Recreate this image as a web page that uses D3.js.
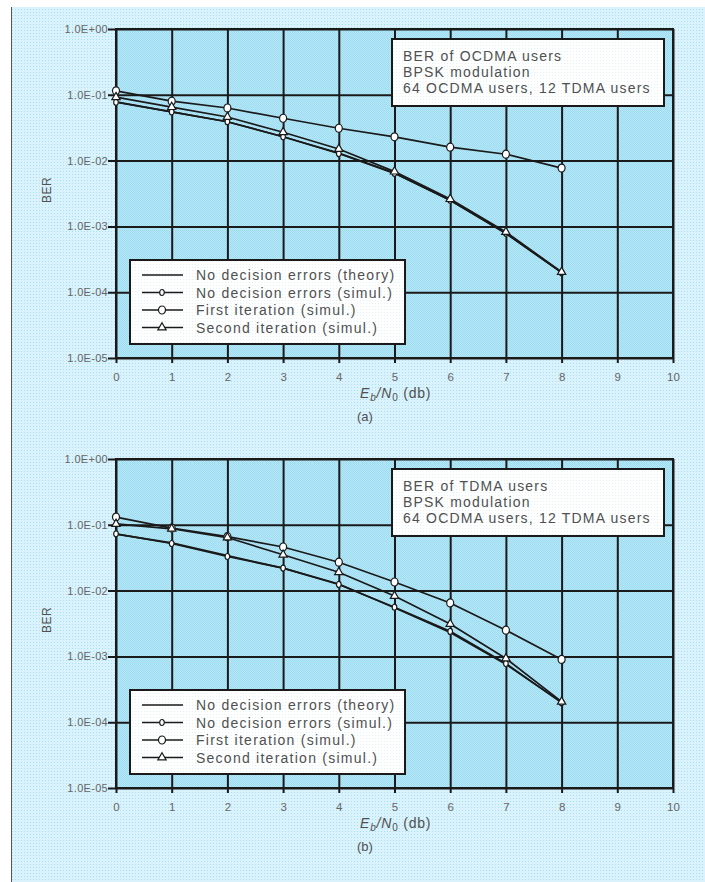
<!DOCTYPE html>
<html>
<head>
<meta charset="utf-8">
<script src="https://cdn.jsdelivr.net/npm/d3@7"></script>
<style>
  html, body { margin: 0; padding: 0; background: #ffffff; }
  svg { display: block; }
  text { font-family: "Liberation Sans", Arial, sans-serif; }
</style>
</head>
<body>
<svg id="chart" width="705" height="882"></svg>
<script>
// ---------- data ----------
const ebn0 = [0, 1, 2, 3, 4, 5, 6, 7, 8];
const xTickValues = [0, 1, 2, 3, 4, 5, 6, 7, 8, 9, 10];
const yTickValues = [1, 1e-1, 1e-2, 1e-3, 1e-4, 1e-5];
const yTickLabels = ["1.0E+00", "1.0E-01", "1.0E-02", "1.0E-03", "1.0E-04", "1.0E-05"];
const seriesNames = ["No decision errors (theory)", "No decision errors (simul.)", "First iteration (simul.)", "Second iteration (simul.)"];

// (a) BER of OCDMA users
const theoryA = [0.078, 0.055, 0.039, 0.023, 0.013, 0.0065, 0.0025, 0.00078, 0.0002];
const simulA  = [0.077, 0.055, 0.039, 0.023, 0.0128, 0.0064, 0.0025, 0.00079, 0.000198];
const firstA  = [0.115, 0.080, 0.063, 0.044, 0.031, 0.023, 0.016, 0.0125, 0.0077];
const secondA = [0.092, 0.065, 0.046, 0.027, 0.015, 0.0068, 0.0026, 0.00082, 0.000203];
const infoA = ["BER of OCDMA users", "BPSK modulation", "64 OCDMA users, 12 TDMA users"];

// (b) BER of TDMA users
const theoryB = [0.072, 0.053, 0.034, 0.022, 0.0126, 0.0055, 0.0023, 0.00076, 0.0002];
const simulB  = [0.073, 0.052, 0.033, 0.022, 0.0124, 0.0056, 0.0024, 0.00078, 0.000198];
const firstB  = [0.131, 0.089, 0.066, 0.046, 0.027, 0.0135, 0.0065, 0.0025, 0.0009];
const secondB = [0.103, 0.087, 0.064, 0.035, 0.019, 0.0083, 0.0031, 0.00093, 0.000205];
const infoB = ["BER of TDMA users", "BPSK modulation", "64 OCDMA users, 12 TDMA users"];

// ---------- drawing ----------
const svg = d3.select("#chart");
const defs = svg.append("defs");

const pOuter = defs.append("pattern").attr("id", "outerPat").attr("patternUnits", "userSpaceOnUse")
  .attr("width", 3).attr("height", 3);
pOuter.append("rect").attr("width", 3).attr("height", 3).attr("fill", "#daf2fb");
pOuter.append("rect").attr("width", 1).attr("height", 1).attr("fill", "#a9dff2");

const pPlot = defs.append("pattern").attr("id", "plotPat").attr("patternUnits", "userSpaceOnUse")
  .attr("width", 2).attr("height", 2);
pPlot.append("rect").attr("width", 2).attr("height", 2).attr("fill", "#b6e8f8");
pPlot.append("rect").attr("width", 1).attr("height", 1).attr("fill", "#9ddbf1");
pPlot.append("rect").attr("x", 1).attr("y", 1).attr("width", 1).attr("height", 1).attr("fill", "#9ddbf1");

const pBox = defs.append("pattern").attr("id", "boxPat").attr("patternUnits", "userSpaceOnUse")
  .attr("width", 3).attr("height", 3);
pBox.append("rect").attr("width", 3).attr("height", 3).attr("fill", "#ffffff");
pBox.append("rect").attr("width", 1).attr("height", 1).attr("fill", "#e2f3f9");

// outer panel
svg.append("rect").attr("x", 11).attr("y", 7).attr("width", 694).attr("height", 875)
  .attr("fill", "url(#outerPat)");
svg.append("line").attr("x1", 11.5).attr("x2", 11.5).attr("y1", 7).attr("y2", 882)
  .attr("stroke", "#555").attr("stroke-width", 1);

const textColor = "#505050";
const tickColor = "#666666";
const lineColor = "#1a1a1a";

function drawPanel(cfg) {
  const left = 116, right = 673, top = cfg.top, bottom = cfg.top + 329;
  const x = d3.scaleLinear().domain([0, 10]).range([left, right]);
  const y = d3.scaleLog().domain([1e-5, 1]).range([bottom, top]);
  const g = svg.append("g");

  g.append("rect").attr("x", left).attr("y", top).attr("width", right - left).attr("height", bottom - top)
    .attr("fill", "url(#plotPat)");

  // grid via axes
  const gx = g.append("g").attr("transform", `translate(0,${bottom})`)
    .call(d3.axisBottom(x).tickValues(xTickValues).tickSize(-(bottom - top)).tickPadding(15).tickFormat(d3.format("d")));
  gx.select(".domain").remove();
  gx.selectAll(".tick line").attr("stroke", lineColor).attr("stroke-width", 2).attr("y2", -(bottom - top)).attr("y1", 5);
  gx.selectAll(".tick text").attr("fill", tickColor).attr("font-size", 11.5)
    .style("font-family", "'Liberation Sans', Arial, sans-serif");

  const gy = g.append("g").attr("transform", `translate(${left},0)`)
    .call(d3.axisLeft(y).tickValues(yTickValues).tickSize(-(right - left)).tickPadding(8)
      .tickFormat((d, i) => yTickLabels[i]));
  gy.select(".domain").remove();
  gy.selectAll(".tick line").attr("stroke", lineColor).attr("stroke-width", 2).attr("x1", -8).attr("x2", right - left);
  gy.selectAll(".tick text").attr("fill", tickColor).attr("font-size", 11).attr("letter-spacing", 0.3)
    .style("font-family", "'Liberation Sans', Arial, sans-serif");

  g.append("rect").attr("x", left).attr("y", top).attr("width", right - left).attr("height", bottom - top)
    .attr("fill", "none").attr("stroke", lineColor).attr("stroke-width", 2);

  // series
  const line = d3.line().x((d, i) => x(ebn0[i])).y(d => y(d));
  const series = [cfg.theory, cfg.simul, cfg.first, cfg.second];
  series.forEach(s => {
    g.append("path").datum(s).attr("d", line).attr("fill", "none")
      .attr("stroke", lineColor).attr("stroke-width", 1.7);
  });

  function marker(sel, type) {
    if (type === 1) {
      sel.append("ellipse").attr("rx", 2.3).attr("ry", 3).attr("fill", "#fff").attr("stroke", lineColor).attr("stroke-width", 1.2);
    } else if (type === 2) {
      sel.append("ellipse").attr("rx", 3.5).attr("ry", 4).attr("fill", "#fff").attr("stroke", lineColor).attr("stroke-width", 1.2);
    } else if (type === 3) {
      sel.append("path").attr("d", d3.symbol(d3.symbolTriangle, 30)()).attr("fill", "#fff")
        .attr("stroke", lineColor).attr("stroke-width", 1.2);
    }
  }
  [1, 2, 3].forEach(t => {
    g.selectAll(null).data(series[t]).enter().append("g")
      .attr("transform", (d, i) => `translate(${x(ebn0[i])},${y(d)})`)
      .each(function () { marker(d3.select(this), t); });
  });

  // info box
  const ib = g.append("g");
  ib.append("rect").attr("x", 392).attr("y", top + 10).attr("width", 272).attr("height", 67)
    .attr("fill", "url(#boxPat)").attr("stroke", lineColor).attr("stroke-width", 2);
  cfg.info.forEach((t, i) => {
    ib.append("text").attr("x", 403).attr("y", top + 32 + i * 16).attr("fill", textColor)
      .attr("font-size", 14).attr("letter-spacing", 1.2).text(t);
  });

  // legend
  const lg = g.append("g");
  const ly = cfg.legendTop;
  lg.append("rect").attr("x", 130).attr("y", ly).attr("width", 275).attr("height", 84)
    .attr("fill", "url(#boxPat)").attr("stroke", lineColor).attr("stroke-width", 2);
  seriesNames.forEach((name, i) => {
    const cy = ly + 15 + i * 17.5;
    lg.append("line").attr("x1", 142).attr("x2", 183).attr("y1", cy).attr("y2", cy)
      .attr("stroke", lineColor).attr("stroke-width", 1.7);
    const m = lg.append("g").attr("transform", `translate(162,${cy})`);
    marker(m, i);
    lg.append("text").attr("x", 196).attr("y", cy).attr("dy", "0.36em").attr("fill", textColor)
      .attr("font-size", 14).attr("letter-spacing", 1.25).text(name);
  });

  // y title
  g.append("text").attr("transform", `translate(51,${top + 161}) rotate(-90)`)
    .attr("text-anchor", "middle").attr("fill", textColor).attr("font-size", 12)
    .attr("letter-spacing", 0.5).text("BER");

  // x title
  const xt = g.append("text").attr("x", 360).attr("y", bottom + 40).attr("fill", textColor)
    .attr("font-size", 14).attr("letter-spacing", 0.8);
  xt.append("tspan").attr("font-style", "italic").text("E");
  xt.append("tspan").attr("font-style", "italic").attr("font-size", 10).attr("dy", 3).text("b");
  xt.append("tspan").attr("font-style", "italic").attr("dy", -3).text("/N");
  xt.append("tspan").attr("font-size", 10).attr("dy", 3).text("0");
  xt.append("tspan").attr("dy", -3).text(" (db)");

  g.append("text").attr("x", 357).attr("y", bottom + 63).attr("fill", textColor).attr("font-size", 13).text(cfg.caption);
}

drawPanel({ top: 29, theory: theoryA, simul: simulA, first: firstA, second: secondA, info: infoA, legendTop: 260, caption: "(a)" });
drawPanel({ top: 459, theory: theoryB, simul: simulB, first: firstB, second: secondB, info: infoB, legendTop: 690, caption: "(b)" });
</script>
</body>
</html>
